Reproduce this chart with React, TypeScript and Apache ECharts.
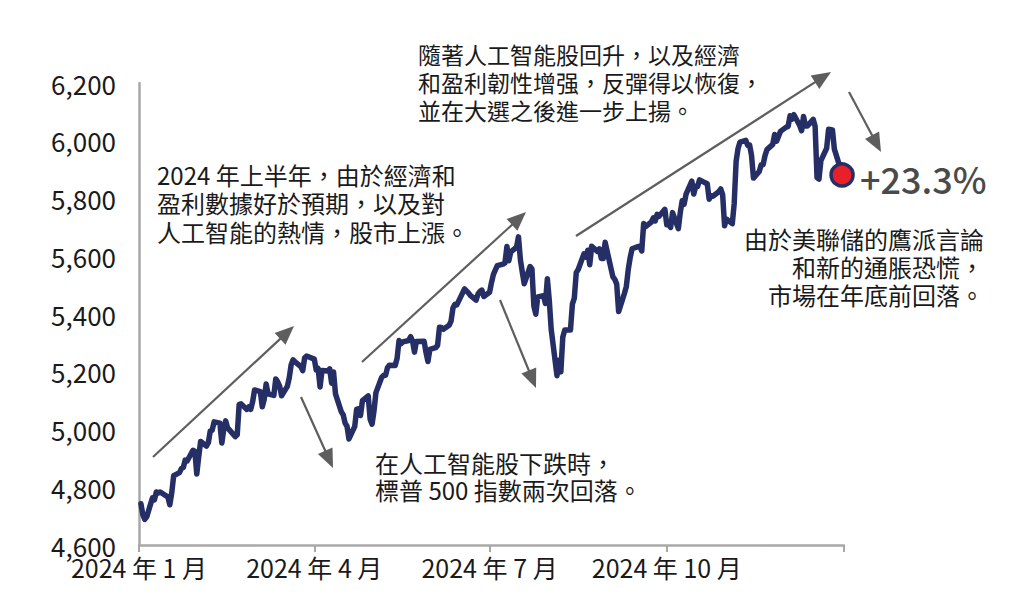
import React, { useEffect, useRef } from "react";
import * as echarts from "echarts";

// Trading days of 2024 (MM-DD) and S&P 500 closing levels
const dates: string[] = [
  "01-02","01-03","01-04","01-05","01-08","01-09","01-10","01-11","01-12","01-16","01-17","01-18","01-19","01-22","01-23","01-24","01-25","01-26","01-29","01-30","01-31",
  "02-01","02-02","02-05","02-06","02-07","02-08","02-09","02-12","02-13","02-14","02-15","02-16","02-20","02-21","02-22","02-23","02-26","02-27","02-28","02-29",
  "03-01","03-04","03-05","03-06","03-07","03-08","03-11","03-12","03-13","03-14","03-15","03-18","03-19","03-20","03-21","03-22","03-25","03-26","03-27","03-28",
  "04-01","04-02","04-03","04-04","04-05","04-08","04-09","04-10","04-11","04-12","04-15","04-16","04-17","04-18","04-19","04-22","04-23","04-24","04-25","04-26","04-29","04-30",
  "05-01","05-02","05-03","05-06","05-07","05-08","05-09","05-10","05-13","05-14","05-15","05-16","05-17","05-20","05-21","05-22","05-23","05-24","05-28","05-29","05-30","05-31",
  "06-03","06-04","06-05","06-06","06-07","06-10","06-11","06-12","06-13","06-14","06-17","06-18","06-20","06-21","06-24","06-25","06-26","06-27","06-28",
  "07-01","07-02","07-03","07-05","07-08","07-09","07-10","07-11","07-12","07-15","07-16","07-17","07-18","07-19","07-22","07-23","07-24","07-25","07-26","07-29","07-30","07-31",
  "08-01","08-02","08-05","08-06","08-07","08-08","08-09","08-12","08-13","08-14","08-15","08-16","08-19","08-20","08-21","08-22","08-23","08-26","08-27","08-28","08-29","08-30",
  "09-03","09-04","09-05","09-06","09-09","09-10","09-11","09-12","09-13","09-16","09-17","09-18","09-19","09-20","09-23","09-24","09-25","09-26","09-27","09-30",
  "10-01","10-02","10-03","10-04","10-07","10-08","10-09","10-10","10-11","10-14","10-15","10-16","10-17","10-18","10-21","10-22","10-23","10-24","10-25","10-28","10-29","10-30","10-31",
  "11-01","11-04","11-05","11-06","11-07","11-08","11-11","11-12","11-13","11-14","11-15","11-18","11-19","11-20","11-21","11-22","11-25","11-26","11-27","11-29",
  "12-02","12-03","12-04","12-05","12-06","12-09","12-10","12-11","12-12","12-13","12-16","12-17","12-18","12-19","12-20","12-23","12-24","12-26","12-27","12-30","12-31",
];

const closes: number[] = [
  4742.83,4704.81,4688.68,4697.24,4763.54,4756.50,4783.45,4780.24,4783.83,4765.98,4739.21,4780.94,4839.81,4850.43,4864.60,4868.55,4894.16,4890.97,4927.93,4924.97,4845.65,
  4906.19,4958.61,4942.81,4954.23,4995.06,4997.91,5026.61,5021.84,4953.17,5000.62,5029.73,5005.57,4975.51,4981.80,5087.03,5088.80,5069.53,5078.18,5069.76,5096.27,
  5137.08,5130.95,5078.65,5104.76,5157.36,5123.69,5117.94,5175.27,5165.31,5150.48,5117.09,5149.42,5178.51,5224.62,5241.53,5234.18,5218.19,5203.58,5248.49,5254.35,
  5243.77,5205.81,5211.49,5147.21,5204.34,5202.39,5209.91,5160.64,5199.06,5123.41,5061.82,5051.41,5022.21,5011.12,4967.23,5010.60,5070.55,5071.63,5048.42,5099.96,5116.17,5035.69,
  5018.39,5064.20,5127.79,5180.74,5187.70,5187.67,5214.08,5222.68,5221.42,5246.68,5308.15,5297.10,5303.27,5308.13,5321.41,5307.01,5267.84,5304.72,5306.04,5266.95,5235.48,5277.51,
  5283.40,5291.34,5354.03,5352.96,5346.99,5360.79,5375.32,5421.03,5433.74,5431.60,5473.23,5487.03,5473.17,5464.62,5447.87,5469.30,5477.90,5482.87,5460.48,
  5475.09,5509.01,5537.02,5567.19,5572.85,5576.98,5633.91,5584.54,5615.35,5631.22,5667.20,5588.27,5544.59,5505.00,5564.41,5555.74,5427.13,5399.22,5459.10,5463.54,5436.44,5522.30,
  5446.68,5346.56,5186.33,5240.03,5199.50,5319.31,5344.16,5344.39,5434.43,5455.21,5543.22,5554.25,5608.25,5597.12,5620.85,5570.64,5634.61,5616.84,5625.80,5592.18,5591.96,5648.40,
  5528.93,5520.07,5503.41,5408.42,5471.05,5495.52,5554.13,5595.76,5626.02,5633.09,5634.58,5618.26,5713.64,5702.55,5718.57,5732.93,5722.26,5745.37,5738.17,5762.48,
  5708.75,5709.54,5699.94,5751.07,5695.94,5751.13,5792.04,5780.05,5815.03,5859.85,5815.26,5842.47,5841.47,5864.67,5853.98,5851.20,5797.42,5809.86,5808.12,5823.52,5832.92,5813.67,5705.45,
  5728.80,5712.69,5782.76,5929.04,5973.10,5995.54,6001.35,5983.99,5985.38,5949.17,5870.62,5893.62,5916.98,5917.11,5948.71,5969.34,5987.37,6021.63,5998.74,6032.38,
  6047.15,6049.88,6086.49,6075.11,6090.27,6052.85,6034.91,6084.19,6051.25,6051.09,6074.08,6050.61,5872.16,5867.08,5930.85,5974.07,6040.04,6037.59,5970.84,5906.94,5881.63,
];

// Quarter starts as day-of-year (2024 is a leap year)
const tickDays: number[] = [0, 91, 182, 274, 366];
const tickLabels: string[] = ["2024 年 1 月", "2024 年 4 月", "2024 年 7 月", "2024 年 10 月"];
const yTicks: number[] = [4600, 4800, 5000, 5200, 5400, 5600, 5800, 6000, 6200];
const changeLabel = "+23.3%";

const noteEarly: string[] = ["2024 年上半年，由於經濟和", "盈利數據好於預期，以及對", "人工智能的熱情，股市上漲。"];
const noteRebound: string[] = ["隨著人工智能股回升，以及經濟", "和盈利韌性增强，反彈得以恢復，", "並在大選之後進一步上揚。"];
const noteDip: string[] = ["在人工智能股下跌時，", "標普 500 指數兩次回落。"];
const noteEnd: string[] = ["由於美聯儲的鷹派言論", "和新的通脹恐慌，", "市場在年底前回落。"];

const FONT = '"Noto Sans CJK TC", "Noto Sans", sans-serif';
const NAVY = "#252f66";
const GRAY = "#a8a8a8";
const ARROW = "#5e5e5e";

function dayOfYear(md: string): number {
  const [m, d] = md.split("-").map(Number);
  return Math.round((Date.UTC(2024, m - 1, d) - Date.UTC(2024, 0, 1)) / 86400000);
}

function arrow(x1: number, y1: number, x2: number, y2: number): any[] {
  const dx = x2 - x1;
  const dy = y2 - y1;
  const len = Math.sqrt(dx * dx + dy * dy);
  const ux = dx / len;
  const uy = dy / len;
  const hl = 19;
  const hw = 8;
  const bx = x2 - ux * hl;
  const by = y2 - uy * hl;
  return [
    {
      type: "line",
      shape: { x1, y1, x2: bx + ux * 2, y2: by + uy * 2 },
      style: { stroke: ARROW, lineWidth: 2.2 },
    },
    {
      type: "polygon",
      shape: {
        points: [
          [x2, y2],
          [bx - uy * hw, by + ux * hw],
          [bx + uy * hw, by - ux * hw],
        ],
      },
      style: { fill: ARROW },
    },
  ];
}

// One multi-line text block; firstCenter is the vertical centre of the first line
function block(arr: string[], x: number, firstCenter: number, lh: number, size: number, align: string = "left"): any {
  return {
    type: "text",
    x,
    y: firstCenter - lh / 2,
    style: {
      text: arr.join("\n"),
      font: `${size}px ${FONT}`,
      lineHeight: lh,
      fill: "#1a1a1a",
      textAlign: align,
      textVerticalAlign: "top",
    },
  };
}

export default function App() {
  const ref = useRef<HTMLDivElement>(null);

  useEffect(() => {
    if (!ref.current) return;
    const chart = echarts.init(ref.current, undefined, { renderer: "svg" });
    const data = dates.map((d, i) => [dayOfYear(d), closes[i]]);
    const last = data[data.length - 1];

    chart.setOption({
      animation: false,
      backgroundColor: "#ffffff",
      grid: { left: 139, right: 179, top: 83, bottom: 63, containLabel: false },
      xAxis: {
        type: "value",
        min: tickDays[0],
        max: tickDays[tickDays.length - 1],
        axisLine: { show: true, lineStyle: { color: GRAY, width: 2.5 } },
        axisTick: {
          show: true,
          length: 7,
          lineStyle: { color: GRAY, width: 2 },
          customValues: tickDays,
        },
        axisLabel: {
          customValues: tickDays.slice(0, 4),
          formatter: (v: number) => {
            const idx = tickDays.indexOf(Math.round(v));
            return idx >= 0 && idx < tickLabels.length ? tickLabels[idx] : "";
          },
          color: "#1a1a1a",
          fontFamily: FONT,
          fontSize: 25,
          margin: 9,
        },
        splitLine: { show: false },
      },
      yAxis: {
        type: "value",
        min: yTicks[0],
        max: yTicks[yTicks.length - 1],
        interval: 200,
        axisLine: { show: true, lineStyle: { color: GRAY, width: 2.5 } },
        axisTick: { show: false },
        axisLabel: {
          formatter: (v: number) => v.toLocaleString("en-US"),
          color: "#1a1a1a",
          fontFamily: FONT,
          fontSize: 26,
          margin: 23,
          padding: [0, 0, 4, 0],
        },
        splitLine: { show: false },
      },
      series: [
        {
          type: "line",
          data,
          showSymbol: false,
          lineStyle: { color: NAVY, width: 5.5, join: "round", cap: "round" },
          itemStyle: { color: NAVY },
          z: 2,
        },
        {
          type: "scatter",
          data: [last],
          symbolSize: 22,
          itemStyle: { color: "#e8202a", borderColor: NAVY, borderWidth: 3.5, opacity: 1 },
          z: 3,
        },
      ],
      graphic: [
        ...arrow(153, 457, 294, 326),
        ...arrow(301, 397, 333, 468),
        ...arrow(362, 362, 526, 212),
        ...arrow(500, 300, 536, 388),
        ...arrow(576, 236, 831, 72),
        ...arrow(849, 92, 881, 152),
        block(noteEarly, 157, 174, 28.5, 24),
        block(noteRebound, 418, 54, 28, 23),
        block(noteDip, 375, 462, 27, 24),
        block(noteEnd, 984, 238, 28, 24, "right"),
        {
          type: "text",
          x: 860,
          y: 178,
          style: {
            text: changeLabel,
            font: `500 36px ${FONT}`,
            fill: "#4a4a4a",
            textAlign: "left",
            textVerticalAlign: "middle",
          },
        },
      ],
    });

    return () => chart.dispose();
  }, []);

  return (
    <div
      ref={ref}
      style={{ position: "absolute", left: 0, top: 0, width: 1023, height: 608 }}
    />
  );
}
